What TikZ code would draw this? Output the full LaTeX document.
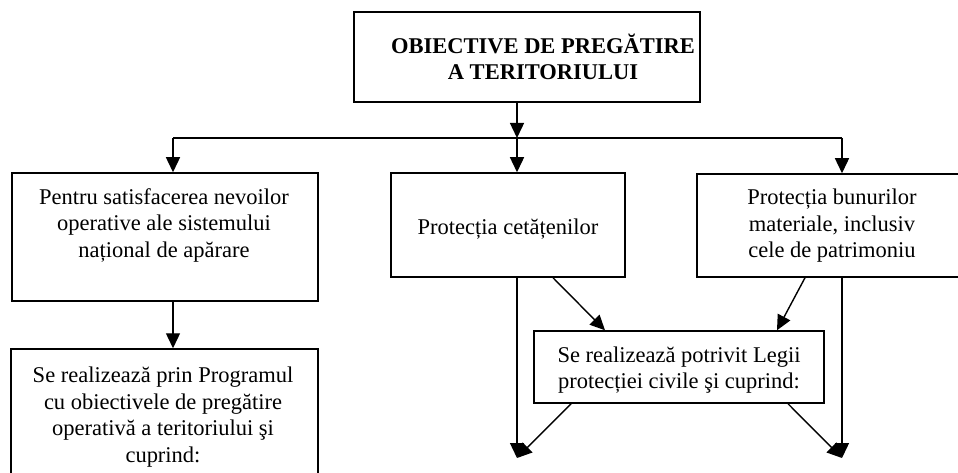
\documentclass[tikz,border=0pt]{standalone}
\usepackage{fontspec}
\setmainfont{Liberation Serif}
\usetikzlibrary{arrows.meta}
\begin{document}
\begin{tikzpicture}[x=1pt,y=-1pt,
  box/.style={draw, line width=1.5pt, inner sep=0pt},
  txt/.style={align=center, font=\fontsize{22.5}{26.5}\selectfont, inner sep=0pt},
  conn/.style={line width=1.4pt, -{Triangle[length=15pt,width=14pt]}},
  bus/.style={line width=1.4pt}]
\clip (0,0) rectangle (958,473);
% boxes
\node[box, minimum width=346pt, minimum height=90pt] (top) at (527,57) {};
\node[txt, font=\fontsize{22.5}{26.5}\selectfont\bfseries] (toptxt) at (543,57) {OBIECTIVE DE PREGĂTIRE\\A TERITORIULUI};
\node[box, minimum width=306pt, minimum height=128pt] (left) at (165,237) {};
\node[txt] (lefttxt) at (164,225) {Pentru satisfacerea nevoilor\\operative ale sistemului\\național de apărare};
\node[box, minimum width=234pt, minimum height=104pt] (mid) at (508,225) {};
\node[txt] (midtxt) at (508,229) {Protecția cetățenilor};
\node[box, minimum width=270pt, minimum height=103pt] (right) at (832,225.5) {};
\node[txt] (righttxt) at (832,226) {Protecția bunurilor\\materiale, inclusiv\\cele de patrimoniu};
\node[box, minimum width=290pt, minimum height=72pt] (lm) at (679,367) {};
\node[txt] (lmtxt) at (679,370) {Se realizează potrivit Legii\\protecției civile şi cuprind:};
\node[box, minimum width=307pt, minimum height=140pt] (ll) at (164.5,419) {};
\node[txt] (lltxt) at (163,417) {Se realizează prin Programul\\cu obiectivele de pregătire\\operativă a teritoriului şi\\cuprind:};
% bus
\coordinate (bL) at (173,138);
\coordinate (bM) at (517,138);
\coordinate (bR) at (842,138);
\coordinate (endL) at (517,458);
\coordinate (endR) at (842,458);
\draw[conn] (top.south -| bM) -- (bM);
\draw[bus] (bL) -- (bR);
\draw[conn] (bL) -- (left.north -| bL);
\draw[conn] (bM) -- (mid.north -| bM);
\draw[conn] (bR) -- (right.north -| bR);
\draw[conn] (left.south -| bL) -- (ll.north -| bL);
\draw[conn] (mid.south -| bM) -- (endL);
\draw[conn] ([xshift=45pt]mid.south) -- ([xshift=-74pt]lm.north);
\draw[conn] (right.south -| bR) -- (endR);
\draw[conn] ([xshift=-27pt]right.south) -- ([xshift=98pt]lm.north);
\draw[conn] ([xshift=-108pt]lm.south) -- (endL);
\draw[conn] ([xshift=109pt]lm.south) -- (endR);
\end{tikzpicture}
\end{document}
